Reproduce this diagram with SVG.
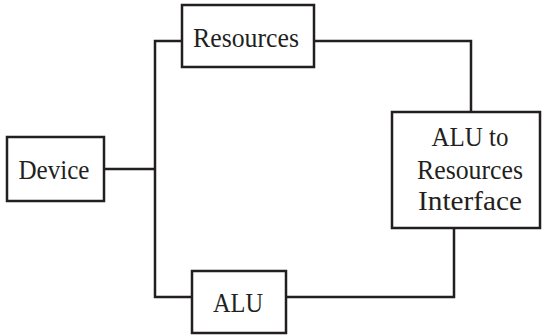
<svg xmlns="http://www.w3.org/2000/svg" width="542" height="335" viewBox="0 0 542 335">
  <style>
    .box { fill: #ffffff; stroke: #231f20; stroke-width: 2.5; }
    .wire { fill: none; stroke: #231f20; stroke-width: 2.5; stroke-linejoin: miter; }
    text { font-size: 27px; fill: #231f20; text-anchor: middle; }
  </style>
  <rect width="542" height="335" fill="#ffffff"/>

  <!-- connectors -->
  <g id="connectors">
    <path class="wire" d="M104 169 H155"/>
    <path class="wire" d="M182 41 H155 V297 H192"/>
    <path class="wire" d="M314 41 H471 V112"/>
    <path class="wire" d="M286 297 H454 V228"/>
  </g>

  <g font-family="Liberation Serif, Tinos, Times New Roman, DejaVu Serif, serif">
    <g id="device">
      <rect class="box" x="7" y="137" width="97" height="64"/>
      <text x="54" y="179" textLength="71" lengthAdjust="spacingAndGlyphs">Device</text>
    </g>

    <g id="resources">
      <rect class="box" x="182" y="5" width="132" height="62"/>
      <text x="246" y="47" textLength="106" lengthAdjust="spacingAndGlyphs">Resources</text>
    </g>

    <g id="alu">
      <rect class="box" x="192" y="271" width="94" height="62"/>
      <text x="238" y="312" textLength="50" lengthAdjust="spacingAndGlyphs">ALU</text>
    </g>

    <g id="interface">
      <rect class="box" x="392" y="112" width="148" height="116"/>
      <text x="470" y="146" textLength="77" lengthAdjust="spacingAndGlyphs">ALU to</text>
      <text x="470" y="179" textLength="106" lengthAdjust="spacingAndGlyphs">Resources</text>
      <text x="470" y="210" textLength="104" lengthAdjust="spacingAndGlyphs">Interface</text>
    </g>
  </g>
</svg>
